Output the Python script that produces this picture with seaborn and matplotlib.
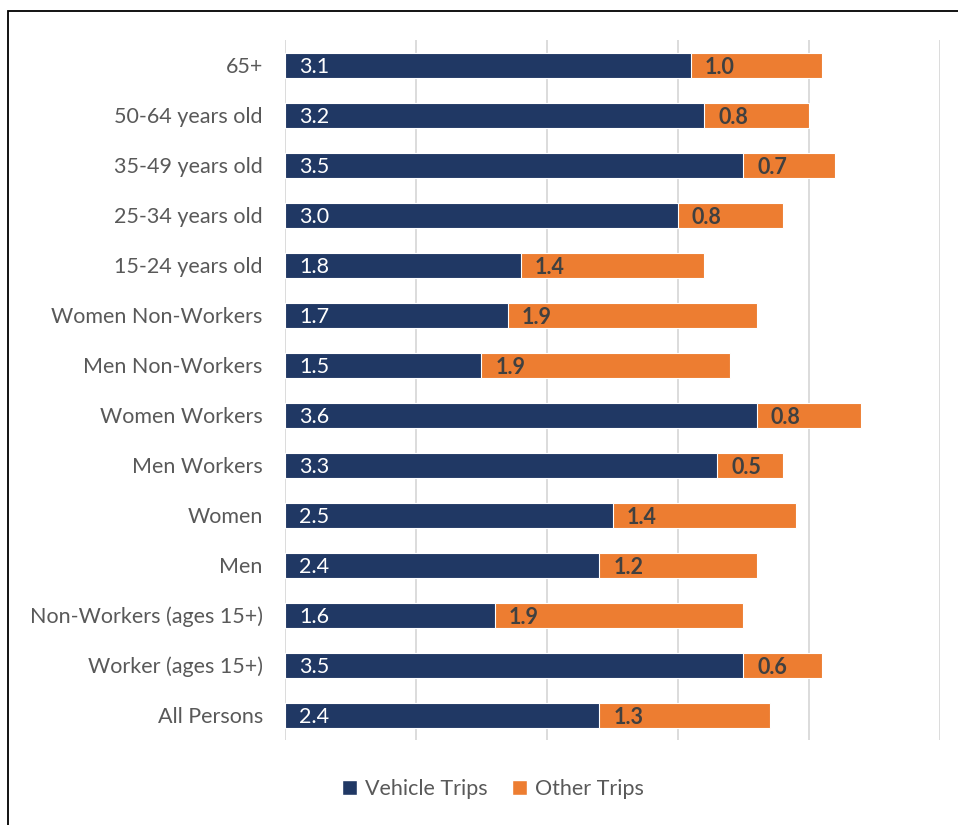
import matplotlib
matplotlib.use("Agg")
import matplotlib.pyplot as plt
from matplotlib.patches import Patch, Rectangle
import seaborn as sns
import pandas as pd

categories = [
    "65+", "50-64 years old", "35-49 years old", "25-34 years old",
    "15-24 years old", "Women Non-Workers", "Men Non-Workers",
    "Women Workers", "Men Workers", "Women", "Men",
    "Non-Workers (ages 15+)", "Worker (ages 15+)", "All Persons",
]
vehicle_trips = [3.1, 3.2, 3.5, 3.0, 1.8, 1.7, 1.5, 3.6, 3.3, 2.5, 2.4, 1.6, 3.5, 2.4]
other_trips = [1.0, 0.8, 0.7, 0.8, 1.4, 1.9, 1.9, 0.8, 0.5, 1.4, 1.2, 1.9, 0.6, 1.3]
x_ticks = [0, 1, 2, 3, 4, 5]

NAVY = "#203864"
ORANGE = "#ED7D31"
TEXT = "#595959"
FS = 15.5

df = pd.DataFrame({"group": categories, "vehicle": vehicle_trips, "other": other_trips})
df["total"] = df["vehicle"] + df["other"]

sns.set_theme(style="white")
plt.rcParams["font.family"] = ["Lato", "DejaVu Sans"]

fig = plt.figure(figsize=(9.58, 8.25), dpi=100)
ax = fig.add_axes([285 / 958, 1 - 740 / 825, (940 - 285) / 958, 700 / 825])

# stacked bars: full total in orange, vehicle share drawn over it in navy
sns.barplot(data=df, x="total", y="group", order=categories, color=ORANGE,
            width=0.5, orient="h", saturation=1, edgecolor="white",
            linewidth=0.8, ax=ax)
sns.barplot(data=df, x="vehicle", y="group", order=categories, color=NAVY,
            width=0.5, orient="h", saturation=1, edgecolor="white",
            linewidth=0.8, ax=ax)

for i, (v, o) in enumerate(zip(vehicle_trips, other_trips)):
    ax.annotate(f"{v:.1f}", xy=(0, i), xytext=(10, -1.5), textcoords="offset points",
                ha="left", va="center", color="white", fontsize=FS)
    ax.annotate(f"{o:.1f}", xy=(v, i), xytext=(10, -1.5), textcoords="offset points",
                ha="left", va="center", color="#404040", fontsize=FS,
                fontweight="bold")

ax.set_xlim(0, 5)
ax.set_ylim(len(categories) - 0.5, -0.5)
ax.set_xticks(x_ticks)
ax.set_xticklabels([])
ax.xaxis.grid(True, color="#D9D9D9", linewidth=1.3)
ax.set_axisbelow(True)
ax.tick_params(axis="both", length=0)
ax.tick_params(axis="y", pad=16, labelsize=FS, labelcolor=TEXT)
ax.set_xlabel("")
ax.set_ylabel("")
for s in ax.spines.values():
    s.set_visible(False)

handles = [Patch(facecolor=NAVY, label="Vehicle Trips"),
           Patch(facecolor=ORANGE, label="Other Trips")]
fig.legend(handles=handles, loc="center", bbox_to_anchor=(493 / 958, 1 - 789 / 825),
           ncol=2, frameon=False, fontsize=FS, labelcolor=TEXT,
           handlelength=0.7, handleheight=0.7, handletextpad=0.4,
           columnspacing=1.1)

# outer chart border
fig.patches.append(Rectangle((8 / 958, -0.05), 1.1, 1 - 11 / 825 + 0.05,
                             transform=fig.transFigure, fill=False,
                             edgecolor="black", linewidth=1.3))

fig.savefig("out.png", dpi=100)
